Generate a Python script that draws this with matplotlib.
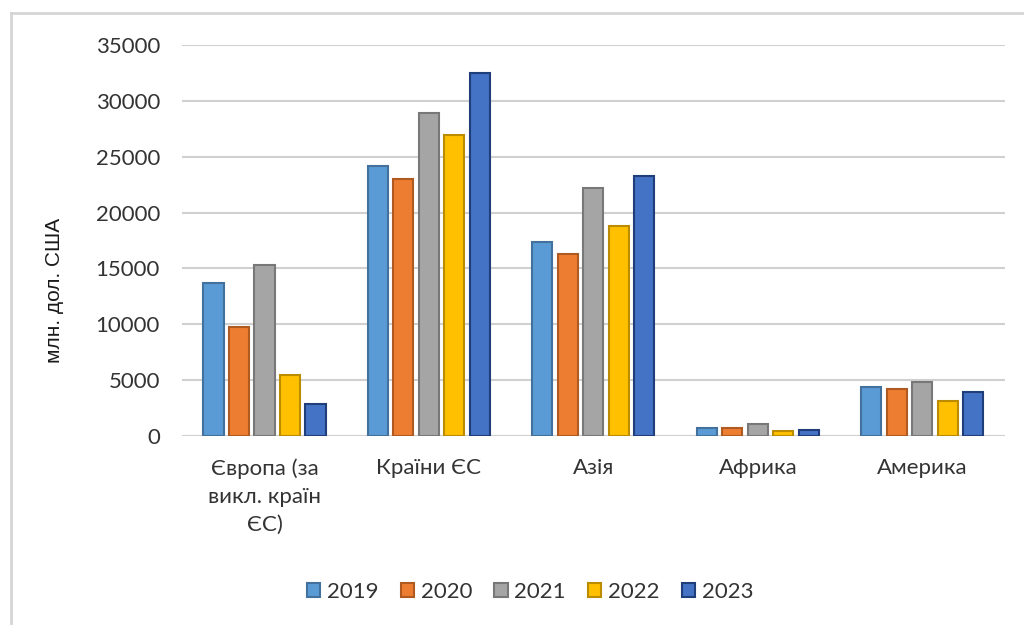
import numpy as np
import matplotlib.pyplot as plt
from matplotlib.lines import Line2D

plt.rcParams['font.family'] = ['Lato', 'Open Sans', 'DejaVu Sans']

# експорт за регіонами, млн. дол. США
regions = ['Європа (за\nвикл. країн\nЄС)', 'Країни ЄС', 'Азія', 'Африка', 'Америка']
years = ['2019', '2020', '2021', '2022', '2023']
v2019 = [13700, 24150, 17350, 700, 4380]
v2020 = [9750, 22990, 16280, 700, 4200]
v2021 = [15300, 28890, 22180, 1100, 4830]
v2022 = [5460, 26920, 18780, 450, 3130]
v2023 = [2860, 32470, 23260, 550, 3940]
series = [v2019, v2020, v2021, v2022, v2023]

colors = ['#5B9BD5', '#ED7D31', '#A5A5A5', '#FFC000', '#4472C4']
edges = ['#41719C', '#AE5A21', '#787878', '#BC8C00', '#203E7A']

fig = plt.figure(figsize=(10.24, 6.25), dpi=100)
ax = fig.add_axes([0.178, 0.3024, 0.803, 0.6256])

x = np.arange(len(regions))
w = 0.122
step = 0.155
for i, vals in enumerate(series):
    ax.bar(x + (i - 2) * step, vals, width=w, color=colors[i],
           edgecolor=edges[i], linewidth=1.5, label=years[i], zorder=3)

ax.set_xlim(-0.5, len(regions) - 0.5)
ax.set_ylim(0, 35000)
ax.set_yticks(np.arange(0, 35001, 5000))
ax.yaxis.grid(True, color='#D0D0D0', linewidth=1.5, zorder=0)
for s in ax.spines.values():
    s.set_visible(False)
ax.axhline(0, color='#D0D0D0', linewidth=1.5, zorder=1)
ax.tick_params(axis='both', length=0, labelsize=16, colors='#333333')
ax.tick_params(axis='y', pad=16)
ax.tick_params(axis='x', pad=16)
ax.set_xticks(x)
ax.set_xticklabels(regions, linespacing=1.5, va='top')

fig.text(55 / 1024, 1 - 290 / 625, 'млн. дол. США', rotation=90,
         ha='center', va='center', fontsize=15, color='#1a1a1a',
         family=['Liberation Sans', 'DejaVu Sans'])

ax.legend(loc='center', bbox_to_anchor=(530 / 1024, 1 - 592 / 625),
          bbox_transform=fig.transFigure, ncol=5, frameon=False,
          fontsize=16, handlelength=0.6, handleheight=0.6,
          handletextpad=0.3, columnspacing=1.0, labelcolor='#333333')

# рамка області діаграми
fig.add_artist(Line2D([11 / 1024, 11 / 1024], [0, 1 - 13 / 625],
                      transform=fig.transFigure, color='#D5D5D5', linewidth=2))
fig.add_artist(Line2D([11 / 1024, 1], [1 - 13 / 625, 1 - 13 / 625],
                      transform=fig.transFigure, color='#D5D5D5', linewidth=2))

fig.savefig('out.png', dpi=100)
